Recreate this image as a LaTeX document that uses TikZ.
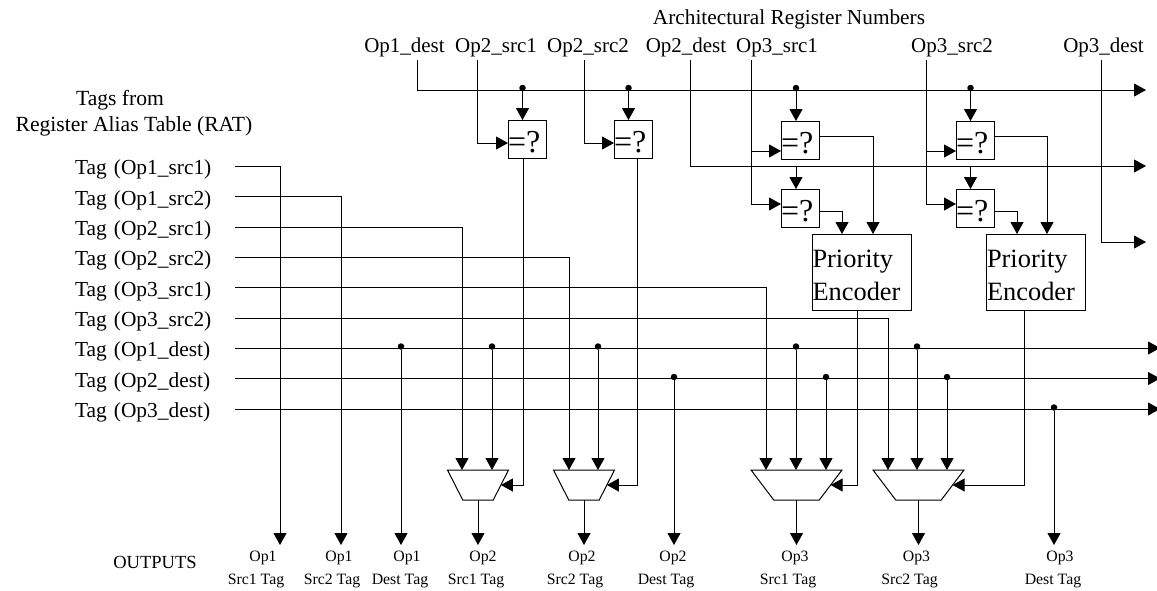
\documentclass[tikz,border=0pt]{standalone}
\usepackage{fontspec}
\setmainfont{Liberation Serif}
\usetikzlibrary{arrows.meta,shapes.geometric}
\tikzset{
  wire/.style={line width=1pt},
  toptext/.style={anchor=base,inner sep=0pt,text depth=8pt,font=\fontsize{21}{24}\selectfont},
  ratext/.style={anchor=base,inner sep=0pt,font=\fontsize{21.6}{24}\selectfont},
  tagtext/.style={anchor=west,inner sep=0pt,outer sep=0pt,text width=160pt,text height=17pt,text depth=0pt,font=\fontsize{21.4}{24}\selectfont},
  outtext/.style={anchor=base,inner sep=0pt,align=center,font=\fontsize{15.8}{23}\selectfont},
  dotmark/.style={circle,fill=black,inner sep=0pt,minimum size=6.5pt},
  eqbox/.style={draw,line width=1pt,inner sep=0pt,outer sep=0pt,minimum size=38pt,text width=38pt,text height=26pt,text depth=0pt,align=left,font=\fontsize{32}{32}\selectfont},
  encbox/.style={draw,line width=1pt,inner sep=0pt,outer sep=0pt,minimum width=99pt,minimum height=76pt,text width=98pt,align=left,font=\fontsize{26.4}{33}\selectfont},
  muxbox/.style={draw,line width=1pt,trapezium,trapezium stretches=true,trapezium angle=63.43,shape border rotate=180,inner sep=1pt,outer sep=0pt,minimum height=30pt},
}

\begin{document}
\begin{tikzpicture}[x=1pt,y=-1pt,>={Triangle[length=12pt,width=13pt]}]
  \useasboundingbox (0,0) rectangle (1157,590);
  % register numbers
  \node[toptext,font=\fontsize{21.3}{24}\selectfont] (regtitle) at (789,24) {Architectural Register Numbers};
  \node[toptext] (opAd) at (404.5,52) {Op1\_dest};
  \node[toptext] (opBa) at (496,52) {Op2\_src1};
  \node[toptext] (opBb) at (588,52) {Op2\_src2};
  \node[toptext] (opBd) at (686,52) {Op2\_dest};
  \node[toptext] (opCa) at (777,52) {Op3\_src1};
  \node[toptext] (opCb) at (952,52) {Op3\_src2};
  \node[toptext] (opCd) at (1103.5,52) {Op3\_dest};
  \coordinate (busA) at (1146,90);
  \coordinate (busB) at (1146,166);
  \coordinate (busC) at (1146,242);
  \draw[->,wire] ([xshift=12.5pt]opAd.south) |- (busA);
  \draw[->,wire] ([xshift=4pt]opBd.south) |- (busB);
  \draw[->,wire] ([xshift=-2.5pt]opCd.south) |- (busC);
  % comparators
  \node[eqbox] (eqA) at (527,139) {=?};
  \node[eqbox] (eqB) at (633,139) {=?};
  \node[eqbox] (eqCa) at (800,140) {=?};
  \node[eqbox] (eqCb) at (800,208) {=?};
  \node[eqbox] (eqDa) at (975,140) {=?};
  \node[eqbox] (eqDb) at (975,208) {=?};
  \node[dotmark] (dotA) at (522.5,88) {};
  \node[dotmark] (dotB) at (628.5,88) {};
  \node[dotmark] (dotC) at (796,88) {};
  \node[dotmark] (dotD) at (970.5,88) {};
  \draw[->,wire] (dotA) -- (dotA |- eqA.north);
  \draw[->,wire] (dotB) -- (dotB |- eqB.north);
  \draw[->,wire] (dotC) -- (dotC |- eqCa.north);
  \draw[->,wire] (dotD) -- (dotD |- eqDa.north);
  \draw[->,wire] (dotC |- busB) -- (dotC |- eqCb.north);
  \draw[->,wire] (dotD |- busB) -- (dotD |- eqDb.north);
  \draw[->,wire] ([xshift=-19pt]opBa.south) |- ([yshift=-4pt]eqA.west);
  \draw[->,wire] ([xshift=-4pt]opBb.south) |- ([yshift=-4pt]eqB.west);
  \coordinate (tapC) at ([xshift=-26pt]opCa.south);
  \coordinate (tapD) at ([xshift=-26pt]opCb.south);
  \coordinate (inC) at ([yshift=-11pt]eqCa.west);
  \coordinate (inD) at ([yshift=-11pt]eqDa.west);
  \draw[->,wire] (tapC) |- ([yshift=4pt]eqCb.west);
  \draw[->,wire] (tapD) |- ([yshift=4pt]eqDb.west);
  \draw[->,wire] (tapC |- inC) -- (inC);
  \draw[->,wire] (tapD |- inD) -- (inD);
  % priority encoders
  \node[encbox] (encC) at (861.5,272) {\rule{0pt}{24pt}Priority\\Encoder};
  \node[encbox] (encD) at (1036,272) {\rule{0pt}{24pt}Priority\\Encoder};
  \draw[->,wire] ([yshift=4pt]eqCa.east) -| ([xshift=11.5pt]encC.north);
  \draw[->,wire] ([yshift=-3.5pt]eqCb.east) -| ([xshift=-19.5pt]encC.north);
  \draw[->,wire] ([yshift=4pt]eqDa.east) -| ([xshift=11pt]encD.north);
  \draw[->,wire] ([yshift=-3.5pt]eqDb.east) -| ([xshift=-19pt]encD.north);
  % tags from the RAT
  \node[ratext] (ratA) at (120,105) {Tags from};
  \node[ratext] (ratB) at (134,131) {Register Alias Table (RAT)};
  \node[tagtext] (tagAa) at (75,166) {Tag (Op1\_src1)};
  \node[tagtext] (tagAb) at (75,196.5) {Tag (Op1\_src2)};
  \node[tagtext] (tagBa) at (75,227) {Tag (Op2\_src1)};
  \node[tagtext] (tagBb) at (75,257) {Tag (Op2\_src2)};
  \node[tagtext] (tagCa) at (75,287.5) {Tag (Op3\_src1)};
  \node[tagtext] (tagCb) at (75,318) {Tag (Op3\_src2)};
  \node[tagtext] (tagAd) at (75,348) {Tag (Op1\_dest)};
  \node[tagtext] (tagBd) at (75,378.5) {Tag (Op2\_dest)};
  \node[tagtext] (tagCd) at (75,409) {Tag (Op3\_dest)};
  \coordinate (lineA) at (1160,348);
  \coordinate (lineB) at (1160,378.5);
  \coordinate (lineC) at (1160,409);
  \draw[->,wire] (tagAd.east) -- (lineA);
  \draw[->,wire] (tagBd.east) -- (lineB);
  \draw[->,wire] (tagCd.east) -- (lineC);
  % muxes
  \node[muxbox,minimum width=61pt] (muxA) at (478,485) {};
  \node[muxbox,minimum width=61pt] (muxB) at (584,485) {};
  \node[muxbox,minimum width=91pt] (muxC) at (796.5,485) {};
  \node[muxbox,minimum width=91pt] (muxD) at (918.5,485) {};
  \draw[->,wire] (tagBa.east) -| ([xshift=-16pt]muxA.north);
  \draw[->,wire] (tagBb.east) -| ([xshift=-15pt]muxB.north);
  \draw[->,wire] (tagCa.east) -| ([xshift=-30.5pt]muxC.north);
  \draw[->,wire] (tagCb.east) -| ([xshift=-30.5pt]muxD.north);
  \node[dotmark] (dotE) at (492,346.5) {};
  \node[dotmark] (dotF) at (598,346.5) {};
  \node[dotmark] (dotG) at (796,346.5) {};
  \node[dotmark] (dotH) at (917,346.5) {};
  \node[dotmark] (dotI) at (826,377) {};
  \node[dotmark] (dotJ) at (947,377) {};
  \draw[->,wire] (dotE) -- (dotE |- muxA.north);
  \draw[->,wire] (dotF) -- (dotF |- muxB.north);
  \draw[->,wire] (dotG) -- (dotG |- muxC.north);
  \draw[->,wire] (dotH) -- (dotH |- muxD.north);
  \draw[->,wire] (dotI) -- (dotI |- muxC.north);
  \draw[->,wire] (dotJ) -- (dotJ |- muxD.north);
  \draw[->,wire] ([xshift=-4pt]eqA.south) |- (muxA.east);
  \draw[->,wire] ([xshift=4pt]eqB.south) |- (muxB.east);
  \draw[->,wire] ([xshift=-4.5pt]encC.south) |- (muxC.east);
  \draw[->,wire] ([xshift=-12pt]encD.south) |- (muxD.east);
  % outputs
  \node[anchor=base,inner sep=0pt,font=\fontsize{18.5}{22}\selectfont] (outhead) at (155,568) {OUTPUTS};
  \node[outtext] (outAa) at (256,584) {\hspace*{14pt}Op1\\Src1 Tag};
  \node[outtext] (outAb) at (332,584) {\hspace*{14pt}Op1\\Src2 Tag};
  \node[outtext] (outAd) at (400,584) {\hspace*{14pt}Op1\\Dest Tag};
  \node[outtext] (outBa) at (476,584) {\hspace*{14pt}Op2\\Src1 Tag};
  \node[outtext] (outBb) at (575,584) {\hspace*{14pt}Op2\\Src2 Tag};
  \node[outtext] (outBd) at (666,584) {\hspace*{14pt}Op2\\Dest Tag};
  \node[outtext] (outCa) at (788,584) {\hspace*{14pt}Op3\\Src1 Tag};
  \node[outtext] (outCb) at (909.5,584) {\hspace*{14pt}Op3\\Src2 Tag};
  \node[outtext] (outCd) at (1053,584) {\hspace*{14pt}Op3\\Dest Tag};
  \coordinate (endA) at (280,545);
  \coordinate (endB) at (341,545);
  \node[dotmark] (dotK) at (401,346.5) {};
  \node[dotmark] (dotL) at (674,377) {};
  \node[dotmark] (dotM) at (1054,407.5) {};
  \draw[->,wire] (tagAa.east) -| (endA);
  \draw[->,wire] (tagAb.east) -| (endB);
  \draw[->,wire] (dotK) -- (dotK |- endA);
  \draw[->,wire] (dotL) -- (dotL |- endA);
  \draw[->,wire] (dotM) -- (dotM |- endA);
  \draw[->,wire] (muxA.south) -- (muxA.south |- endA);
  \draw[->,wire] (muxB.south) -- (muxB.south |- endA);
  \draw[->,wire] (muxC.south) -- (muxC.south |- endA);
  \draw[->,wire] (muxD.south) -- (muxD.south |- endA);
\end{tikzpicture}
\end{document}
